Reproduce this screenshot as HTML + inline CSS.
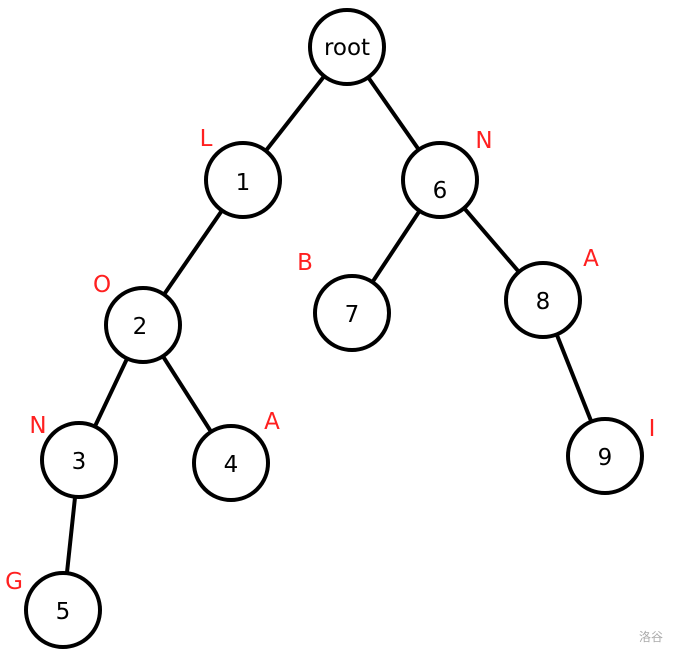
<!DOCTYPE html>
<html><head><style>body{margin:0;background:#fff}</style></head><body>
<svg width="678" height="657" xmlns="http://www.w3.org/2000/svg" font-family="DejaVu Sans, Liberation Sans, sans-serif">
<g stroke="#000" stroke-width="4">
<line x1="347" y1="47" x2="243" y2="180"/>
<line x1="347" y1="47" x2="440" y2="180"/>
<line x1="243" y1="180" x2="143" y2="325"/>
<line x1="440" y1="180" x2="352" y2="313"/>
<line x1="440" y1="180" x2="543" y2="300"/>
<line x1="143" y1="325" x2="79" y2="460"/>
<line x1="143" y1="325" x2="231" y2="463"/>
<line x1="543" y1="300" x2="605" y2="456"/>
<line x1="79" y1="460" x2="63" y2="610"/>
</g>
<g stroke="#000" stroke-width="4" fill="#fff">
<circle cx="347" cy="47" r="37"/>
<circle cx="243" cy="180" r="37"/>
<circle cx="440" cy="180" r="37"/>
<circle cx="143" cy="325" r="37"/>
<circle cx="352" cy="313" r="37"/>
<circle cx="543" cy="300" r="37"/>
<circle cx="79" cy="460" r="37"/>
<circle cx="231" cy="463" r="37"/>
<circle cx="605" cy="456" r="37"/>
<circle cx="63" cy="610" r="37"/>
</g>
<g font-size="23" text-anchor="middle" fill="#000">
<text x="347" y="55">root</text>
<text x="243" y="190">1</text>
<text x="440" y="198">6</text>
<text x="140" y="334">2</text>
<text x="352" y="322">7</text>
<text x="543" y="309">8</text>
<text x="79" y="469">3</text>
<text x="231" y="472">4</text>
<text x="605" y="465">9</text>
<text x="63" y="619">5</text>
</g>
<g font-size="23" fill="#ff2020" text-anchor="middle">
<text x="206" y="146">L</text>
<text x="484" y="148">N</text>
<text x="305" y="270">B</text>
<text x="591" y="266">A</text>
<text x="102" y="292">O</text>
<text x="38" y="433">N</text>
<text x="272" y="429">A</text>
<text x="652" y="436">I</text>
<text x="14" y="589">G</text>
</g>
<text x="651" y="641" font-size="12" fill="#aaa" text-anchor="middle" font-family="Noto Sans CJK SC, sans-serif">洛谷</text>
</svg>
</body></html>
